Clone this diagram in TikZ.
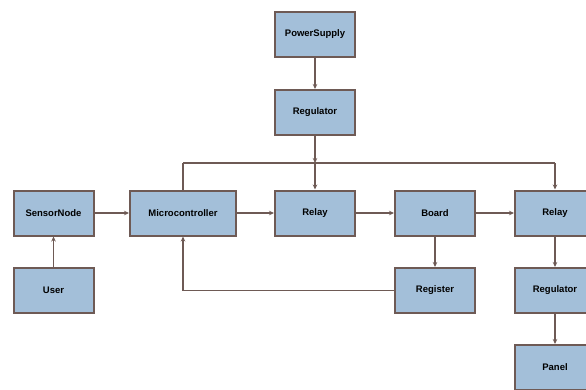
\documentclass[tikz,border=0pt]{standalone}
\usepackage{fontspec}
\setmainfont{Liberation Sans}
\usetikzlibrary{arrows.meta}
\definecolor{boxfill}{HTML}{A3BFD9}
\definecolor{boxline}{HTML}{6E5A55}
\begin{document}
\begin{tikzpicture}[x=1pt,y=-1pt,
  blk/.style={draw=boxline,fill=boxfill,line width=2pt,minimum width=80pt,minimum height=45pt,inner sep=1pt,font=\fontsize{9.5}{10}\selectfont\bfseries},
  conn/.style={draw=boxline,line width=1.7pt},
  arr/.style={conn,-{Stealth[length=5pt,width=4.5pt]}}]
\useasboundingbox (0,0) rectangle (586,389);
\node[blk] (ps) at (315,34.5) {PowerSupply};
\node[blk] (reg1) at (315,112.5) {Regulator};
\node[blk] (sn) at (53.5,213) {SensorNode};
\node[blk,minimum width=106pt] (mc) at (183,213) {Microcontroller};
\node[blk] (r1) at (315,213) {Relay};
\node[blk] (bd) at (435,213) {Board};
\node[blk] (r2) at (555,213) {Relay};
\node[blk] (us) at (53.5,290.5) {User};
\node[blk] (reg2) at (435,290.5) {Register};
\node[blk] (reg3) at (555,290.5) {Regulator};
\node[blk] (pn) at (555,367.5) {Panel};
\coordinate (j) at (315,163);
\coordinate (jl) at (183,163);
\coordinate (jr) at (555,163);
\coordinate (bl) at (183,290.5);
\draw[arr] (ps) -- (reg1);
\draw[arr] (reg1) -- (j);
\draw[arr] (j) -- (r1);
\draw[conn] (jl) -- (jr);
\draw[conn] (jl) -- (mc.north);
\draw[arr] (jr) -- (r2);
\draw[arr] (sn) -- (mc);
\draw[arr] (mc) -- (r1);
\draw[arr] (r1) -- (bd);
\draw[arr] (bd) -- (r2);
\draw[arr] (us) -- (sn);
\draw[arr] (bd) -- (reg2);
\draw[arr] (reg2.west) -- (bl) -- (mc.south);
\draw[arr] (r2) -- (reg3);
\draw[arr] (reg3) -- (pn);
\end{tikzpicture}
\end{document}
